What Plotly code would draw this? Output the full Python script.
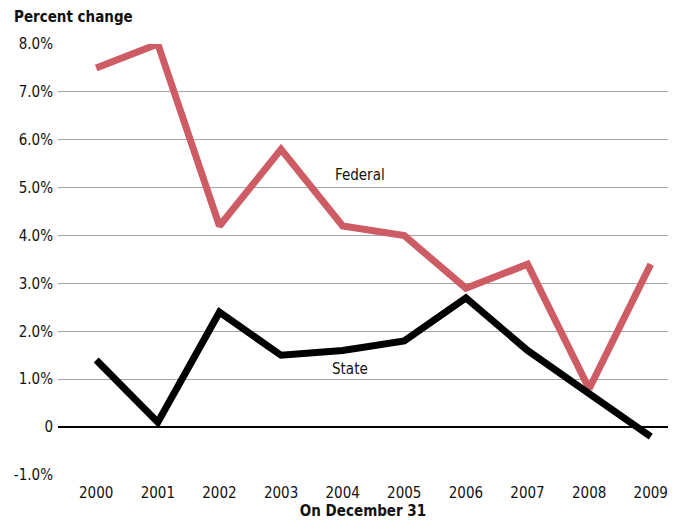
import plotly.graph_objects as go

years = [2000, 2001, 2002, 2003, 2004, 2005, 2006, 2007, 2008, 2009]
federal = [7.5, 8.0, 4.2, 5.8, 4.2, 4.0, 2.9, 3.4, 0.8, 3.4]
state = [1.4, 0.1, 2.4, 1.5, 1.6, 1.8, 2.7, 1.6, 0.7, -0.2]
y_ticks = [-1, 0, 1, 2, 3, 4, 5, 6, 7, 8]
y_labels = ["-1.0%", "0", "1.0%", "2.0%", "3.0%", "4.0%", "5.0%", "6.0%", "7.0%", "8.0%"]

FONT = "DejaVu Sans Condensed, Liberation Sans Narrow, sans-serif"
RED = "#cd5c64"

fig = go.Figure()
fig.add_trace(go.Scatter(x=years, y=federal, mode="lines", name="Federal",
                         line=dict(color=RED, width=7), hoverinfo="skip"))
fig.add_trace(go.Scatter(x=years, y=state, mode="lines", name="State",
                         line=dict(color="#000000", width=7), hoverinfo="skip"))

fig.add_annotation(x=2004.28, y=5.26, text="Federal", showarrow=False,
                   font=dict(family=FONT, size=15, color="#111"))
fig.add_annotation(x=2004.12, y=1.21, text="State", showarrow=False,
                   font=dict(family=FONT, size=15, color="#111"))
fig.add_annotation(xref="paper", yref="paper", x=-0.075, y=1.0, yshift=27,
                   xanchor="left", yanchor="middle", text="<b>Percent change</b>",
                   showarrow=False, font=dict(family=FONT, size=15, color="#111"))

fig.update_layout(
    width=681, height=515,
    margin=dict(l=50, r=21, t=36, b=48),
    paper_bgcolor="white", plot_bgcolor="white",
    showlegend=False,
    font=dict(family=FONT, size=15, color="#111"),
    xaxis=dict(range=[1999.38, 2009.28], tickmode="array", tickvals=years,
               ticktext=[str(y) for y in years], showgrid=False, zeroline=False,
               showline=False, ticks="", automargin=False, ticklabelstandoff=7,
               title=dict(text="<b>On December 31</b>", standoff=2,
                          font=dict(family=FONT, size=15))),
    yaxis=dict(range=[-1, 8], tickmode="array", tickvals=y_ticks, ticktext=y_labels,
               showgrid=True, gridcolor="#a6a6a6", gridwidth=1,
               zeroline=True, zerolinecolor="#000000", zerolinewidth=2,
               showline=False, ticks="", ticklabelstandoff=4, automargin=False),
)

fig.write_html("out.html")
